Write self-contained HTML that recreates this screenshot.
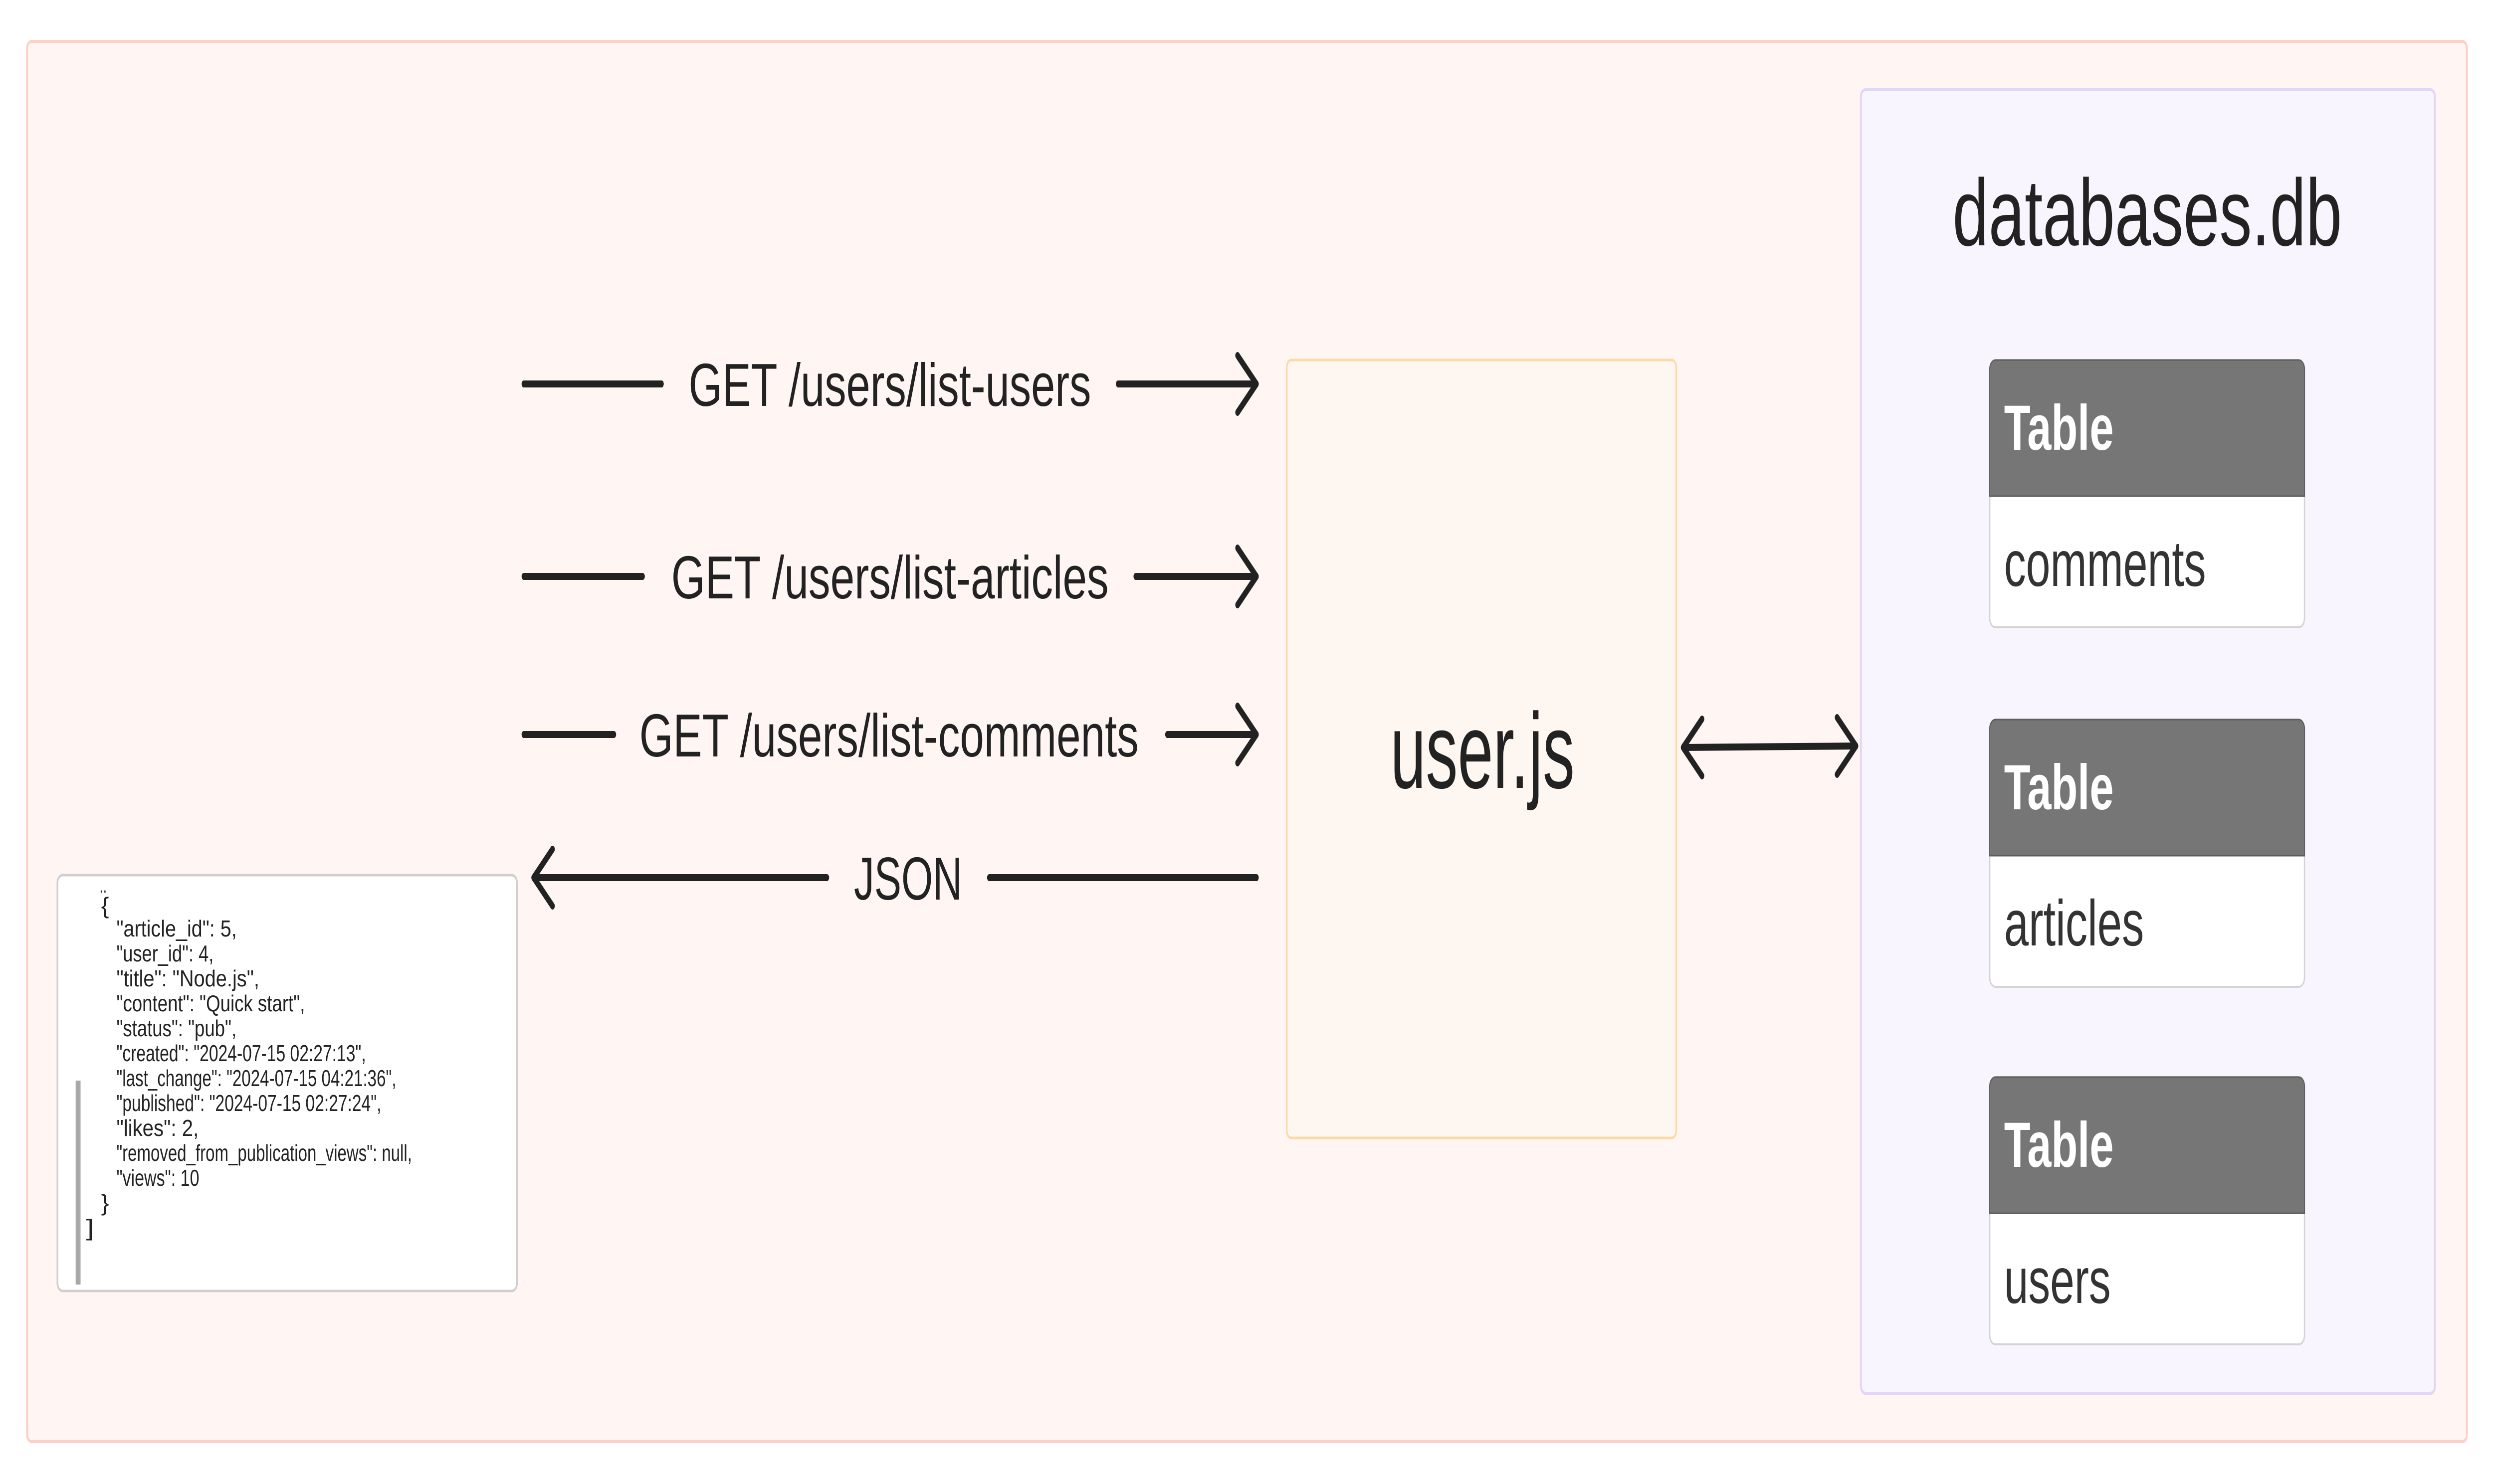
<!DOCTYPE html>
<html><head><meta charset="utf-8"><style>
html,body{margin:0;padding:0;background:#fff;width:100%;height:100%;overflow:hidden;}
svg{display:block;width:100vw;height:100vh;}
text{font-family:"Liberation Sans",sans-serif;}
.m{font-family:"Liberation Mono",monospace;font-size:46px;fill:#222;}
</style></head><body>
<svg viewBox="0 0 7646 2976" preserveAspectRatio="none" xmlns="http://www.w3.org/2000/svg">
<rect x="83" y="83" width="7480" height="2808" rx="14" fill="#fff5f3" stroke="#fdd0c8" stroke-width="6"/>
<rect x="5705" y="180" width="1760" height="2614" rx="14" fill="#f8f5fe" stroke="#e2d6f8" stroke-width="6"/>
<text x="6583" y="492" font-size="190" fill="#222" text-anchor="middle" textLength="1194" lengthAdjust="spacingAndGlyphs">databases.db</text>

<g>
<rect x="6100" y="722" width="965" height="536" rx="18" fill="#fff" stroke="#d4d4d4" stroke-width="4"/>
<path d="M6100 995 V740 a18 18 0 0 1 18 -18 H7047 a18 18 0 0 1 18 18 V995 Z" fill="#767676" stroke="#5e5e5e" stroke-width="3"/>
<text x="6144" y="902" font-size="128" font-weight="bold" fill="#fff" textLength="336" lengthAdjust="spacingAndGlyphs">Table</text>
<text x="6144" y="1175" font-size="130" fill="#333" textLength="619" lengthAdjust="spacingAndGlyphs">comments</text>
</g>
<g transform="translate(0,721)">
<rect x="6100" y="722" width="965" height="536" rx="18" fill="#fff" stroke="#d4d4d4" stroke-width="4"/>
<path d="M6100 995 V740 a18 18 0 0 1 18 -18 H7047 a18 18 0 0 1 18 18 V995 Z" fill="#767676" stroke="#5e5e5e" stroke-width="3"/>
<text x="6144" y="902" font-size="128" font-weight="bold" fill="#fff" textLength="336" lengthAdjust="spacingAndGlyphs">Table</text>
<text x="6144" y="1175" font-size="130" fill="#333" textLength="429" lengthAdjust="spacingAndGlyphs">articles</text>
</g>
<g transform="translate(0,1438)">
<rect x="6100" y="722" width="965" height="536" rx="18" fill="#fff" stroke="#d4d4d4" stroke-width="4"/>
<path d="M6100 995 V740 a18 18 0 0 1 18 -18 H7047 a18 18 0 0 1 18 18 V995 Z" fill="#767676" stroke="#5e5e5e" stroke-width="3"/>
<text x="6144" y="902" font-size="128" font-weight="bold" fill="#fff" textLength="336" lengthAdjust="spacingAndGlyphs">Table</text>
<text x="6144" y="1175" font-size="130" fill="#333" textLength="327" lengthAdjust="spacingAndGlyphs">users</text>
</g>

<rect x="3945" y="722" width="1194" height="1560" rx="14" fill="#fef6f0" stroke="#fdd9a6" stroke-width="5"/>
<text x="4545" y="1580" font-size="215" fill="#222" text-anchor="middle" textLength="565" lengthAdjust="spacingAndGlyphs">user.js</text>

<g stroke="#222" stroke-width="14" stroke-linecap="round" stroke-linejoin="round" fill="none">
<line x1="1606" y1="770" x2="2028" y2="770"/><line x1="3428" y1="770" x2="3852" y2="770"/><polyline points="3794,713 3852,770 3794,827"/>
<line x1="1606" y1="1156" x2="1970" y2="1156"/><line x1="3482" y1="1156" x2="3852" y2="1156"/><polyline points="3794,1099 3852,1156 3794,1213"/>
<line x1="1606" y1="1473" x2="1882" y2="1473"/><line x1="3579" y1="1473" x2="3852" y2="1473"/><polyline points="3794,1416 3852,1473 3794,1530"/>
<line x1="1636" y1="1760" x2="2535" y2="1760"/><line x1="3033" y1="1760" x2="3852" y2="1760"/><polyline points="1694,1703 1636,1760 1694,1817"/>
<line x1="5160" y1="1499" x2="5690" y2="1496"/><polyline points="5218,1442 5160,1499 5218,1556"/><polyline points="5632,1439 5690,1496 5632,1553"/>
</g>
<g font-size="122" fill="#222">
<text x="2111" y="814" textLength="1234" lengthAdjust="spacingAndGlyphs">GET /users/list-users</text>
<text x="2058" y="1200" textLength="1341" lengthAdjust="spacingAndGlyphs">GET /users/list-articles</text>
<text x="1960" y="1517" textLength="1531" lengthAdjust="spacingAndGlyphs">GET /users/list-comments</text>
<text x="2618" y="1804" textLength="332" lengthAdjust="spacingAndGlyphs">JSON</text>
</g>

<rect x="176" y="1755" width="1409" height="834" rx="16" fill="#fff" stroke="#cfcfcf" stroke-width="5"/>
<rect x="232" y="2167" width="15" height="409" fill="#a8a8a8"/>
<g class="m">
<text x="305" y="1790" font-size="40">..</text>
<text x="310" y="1832" textLength="24" lengthAdjust="spacingAndGlyphs">{</text>
<text x="357" y="1878" textLength="369" lengthAdjust="spacingAndGlyphs">"article_id": 5,</text>
<text x="357" y="1928" textLength="298" lengthAdjust="spacingAndGlyphs">"user_id": 4,</text>
<text x="357" y="1978" textLength="438" lengthAdjust="spacingAndGlyphs">"title": "Node.js",</text>
<text x="357" y="2028" textLength="578" lengthAdjust="spacingAndGlyphs">"content": "Quick start",</text>
<text x="357" y="2078" textLength="368" lengthAdjust="spacingAndGlyphs">"status": "pub",</text>
<text x="357" y="2128" textLength="765" lengthAdjust="spacingAndGlyphs">"created": "2024-07-15 02:27:13",</text>
<text x="357" y="2178" textLength="858" lengthAdjust="spacingAndGlyphs">"last_change": "2024-07-15 04:21:36",</text>
<text x="357" y="2228" textLength="812" lengthAdjust="spacingAndGlyphs">"published": "2024-07-15 02:27:24",</text>
<text x="357" y="2278" textLength="252" lengthAdjust="spacingAndGlyphs">"likes": 2,</text>
<text x="357" y="2328" textLength="906" lengthAdjust="spacingAndGlyphs">"removed_from_publication_views": null,</text>
<text x="357" y="2378" textLength="254" lengthAdjust="spacingAndGlyphs">"views": 10</text>
<text x="310" y="2428" textLength="24" lengthAdjust="spacingAndGlyphs">}</text>
<text x="264" y="2478" textLength="24" lengthAdjust="spacingAndGlyphs">]</text>
</g>
</svg>
</body></html>
